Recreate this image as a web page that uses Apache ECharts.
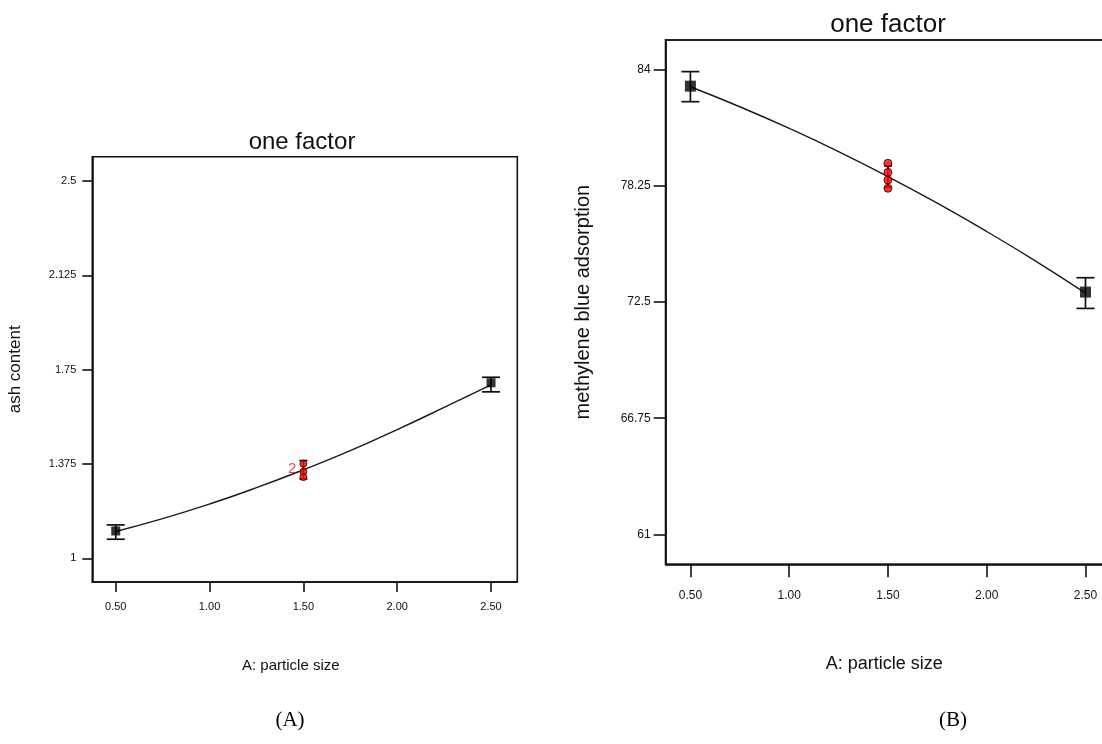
<!DOCTYPE html>
<html>
<head>
<meta charset="utf-8">
<title>one factor</title>
<script src="https://cdn.jsdelivr.net/npm/echarts@6/dist/echarts.min.js"></script>
<style>
  html, body { margin: 0; padding: 0; background: #fff; }
  #chart { width: 1102px; height: 744px; }
</style>
</head>
<body>
<div id="chart"></div>
<script>
// ---- shared axis ticks ----
const xTicks = [0.5, 1.0, 1.5, 2.0, 2.5];

// ---- (A) ash content vs particle size ----
const ashYTicks = [1, 1.375, 1.75, 2.125, 2.5];
const ashCurveX = [0.5, 0.75, 1.0, 1.25, 1.5, 1.75, 2.0, 2.25, 2.5];
const ashCurveY = [1.107, 1.158, 1.216, 1.281, 1.352, 1.428, 1.512, 1.600, 1.690];
const ashEndX = [0.5, 2.5];
const ashEndY = [1.109, 1.698];
const ashEndLow = [1.076, 1.662];
const ashEndHigh = [1.133, 1.720];
const ashCenterX = 1.5;
const ashCenterLow = 1.316;
const ashCenterHigh = 1.389;
const ashCenterRuns = [1.376, 1.345, 1.323];
const ashCenterCounts = [1, 2, 1];

// ---- (B) methylene blue adsorption vs particle size ----
const mbYTicks = [61, 66.75, 72.5, 78.25, 84];
const mbCurveX = [0.5, 0.75, 1.0, 1.25, 1.5, 1.75, 2.0, 2.25, 2.5];
const mbCurveY = [83.17, 82.18, 81.11, 79.96, 78.72, 77.40, 76.00, 74.52, 72.95];
const mbEndX = [0.5, 2.5];
const mbEndY = [83.20, 73.00];
const mbEndLow = [82.43, 72.19];
const mbEndHigh = [83.92, 73.71];
const mbCenterX = 1.5;
const mbCenterLow = 78.20;
const mbCenterHigh = 79.25;
const mbCenterRuns = [79.38, 78.93, 78.55, 78.14];
const mbCenterCounts = [1, 1, 1, 1];

const INK = '#111';
const SANS = 'Liberation Sans';

function zip(a, b) { return a.map((v, i) => [v, b[i]]); }

// vertical bar with horizontal caps, placed through the axis scales
function errorBar(capHalf) {
  return function (params, api) {
    const x = api.value(0);
    const top = api.coord([x, api.value(2)]);
    const bot = api.coord([x, api.value(1)]);
    const style = { stroke: INK, lineWidth: 1.7 };
    return {
      type: 'group',
      children: [
        { type: 'line', shape: { x1: top[0], y1: top[1], x2: bot[0], y2: bot[1] }, style },
        { type: 'line', shape: { x1: top[0] - capHalf, y1: top[1], x2: top[0] + capHalf, y2: top[1] }, style },
        { type: 'line', shape: { x1: bot[0] - capHalf, y1: bot[1], x2: bot[0] + capHalf, y2: bot[1] }, style }
      ]
    };
  };
}

function panelSeries(idx, curveX, curveY, endX, endY, endLow, endHigh,
                     cX, cLow, cHigh, runs, counts, sq, dot) {
  return [
    {
      type: 'line', xAxisIndex: idx, yAxisIndex: idx, smooth: true, showSymbol: false,
      data: zip(curveX, curveY), lineStyle: { color: '#1a1a1a', width: 1.4 }, z: 2, silent: true
    },
    {
      type: 'custom', xAxisIndex: idx, yAxisIndex: idx, renderItem: errorBar(9),
      data: endX.map((x, i) => [x, endLow[i], endHigh[i]]), encode: { x: 0, y: [1, 2] }, z: 3, silent: true
    },
    {
      type: 'custom', xAxisIndex: idx, yAxisIndex: idx, renderItem: errorBar(4),
      data: [[cX, cLow, cHigh]], encode: { x: 0, y: [1, 2] }, z: 3, silent: true
    },
    {
      type: 'scatter', xAxisIndex: idx, yAxisIndex: idx, symbol: 'rect', symbolSize: sq,
      data: zip(endX, endY), itemStyle: { color: '#000' }, z: 4, silent: true
    },
    {
      type: 'scatter', xAxisIndex: idx, yAxisIndex: idx, symbol: 'circle', symbolSize: dot,
      data: runs.map((v, i) => ({
        value: [cX, v],
        label: counts[i] > 1 ? {
          show: true, position: 'left', distance: 3, offset: [0, -3],
          formatter: String(counts[i]), color: '#ff1010', fontSize: 15, fontFamily: SANS
        } : { show: false }
      })),
      itemStyle: { color: '#ff0000', borderColor: '#2a0000', borderWidth: 1 }, z: 5, silent: true
    }
  ];
}

function xAxis(idx, max, tickLen, labelSize, margin, nameSize, nameGap, shift) {
  return {
    gridIndex: idx, type: 'value', min: 0.375, max: max,
    axisLine: { show: true, onZero: false, lineStyle: { color: INK, width: 1.6 } },
    axisTick: { show: true, customValues: xTicks, length: tickLen, lineStyle: { color: INK, width: 1.6 } },
    axisLabel: {
      customValues: xTicks, formatter: v => v.toFixed(2), fontSize: labelSize,
      fontFamily: SANS, color: INK, margin: margin
    },
    splitLine: { show: false },
    name: 'A: particle size', nameLocation: 'middle', nameGap: nameGap,
    nameTextStyle: { fontSize: nameSize, fontFamily: SANS, color: INK, padding: [0, shift, 0, 0] }
  };
}

function yAxis(idx, min, max, ticks, name, tickLen, labelSize, margin, nameSize, nameGap) {
  return {
    gridIndex: idx, type: 'value', min: min, max: max,
    axisLine: { show: true, onZero: false, lineStyle: { color: INK, width: 1.6 } },
    axisTick: { show: true, customValues: ticks, length: tickLen, lineStyle: { color: INK, width: 1.6 } },
    axisLabel: { customValues: ticks, fontSize: labelSize, fontFamily: SANS, color: INK, margin: margin },
    splitLine: { show: false },
    name: name, nameLocation: 'middle', nameGap: nameGap,
    nameTextStyle: { fontSize: nameSize, fontFamily: SANS, color: INK }
  };
}

const chart = echarts.init(document.getElementById('chart'), null, { renderer: 'canvas' });

chart.setOption({
  animation: false,
  backgroundColor: '#fff',
  title: [
    { text: 'one factor', left: 302, top: 130, textAlign: 'center', padding: 0,
      textStyle: { fontSize: 24, fontWeight: 'normal', fontFamily: SANS, color: INK } },
    { text: 'one factor', left: 888, top: 12, textAlign: 'center', padding: 0,
      textStyle: { fontSize: 26, fontWeight: 'normal', fontFamily: SANS, color: INK } }
  ],
  grid: [
    { left: 92.3, top: 156.7, width: 425, height: 425.3, show: true, borderColor: INK, borderWidth: 1.6,
      backgroundColor: 'transparent', containLabel: false, outerBoundsMode: 'none' },
    { left: 665.7, top: 40, width: 530, height: 524.3, show: true, borderColor: '#222', borderWidth: 2,
      backgroundColor: 'transparent', containLabel: false, outerBoundsMode: 'none' }
  ],
  xAxis: [
    xAxis(0, 2.64, 10, 11, 19, 15, 76, 28),
    xAxis(1, 3.058, 13, 12, 25, 18, 91, 93)
  ],
  yAxis: [
    yAxis(0, 0.906, 2.597, ashYTicks, 'ash content', 10, 11, 16, 17, 68),
    yAxis(1, 59.514, 85.486, mbYTicks, 'methylene blue adsorption', 12, 12, 15, 20, 72)
  ],
  series: [
    ...panelSeries(0, ashCurveX, ashCurveY, ashEndX, ashEndY, ashEndLow, ashEndHigh,
                   ashCenterX, ashCenterLow, ashCenterHigh, ashCenterRuns, ashCenterCounts, 9, 7),
    ...panelSeries(1, mbCurveX, mbCurveY, mbEndX, mbEndY, mbEndLow, mbEndHigh,
                   mbCenterX, mbCenterLow, mbCenterHigh, mbCenterRuns, mbCenterCounts, 11, 8)
  ],
  graphic: [
    { type: 'text', x: 290, y: 720, silent: true,
      style: { text: '(A)', fontSize: 21, fontFamily: 'Liberation Serif', fill: '#000',
               align: 'center', verticalAlign: 'middle', textAlign: 'center', textVerticalAlign: 'middle' } },
    { type: 'text', x: 953, y: 720, silent: true,
      style: { text: '(B)', fontSize: 21, fontFamily: 'Liberation Serif', fill: '#000',
               align: 'center', verticalAlign: 'middle', textAlign: 'center', textVerticalAlign: 'middle' } }
  ]
});
</script>
</body>
</html>
